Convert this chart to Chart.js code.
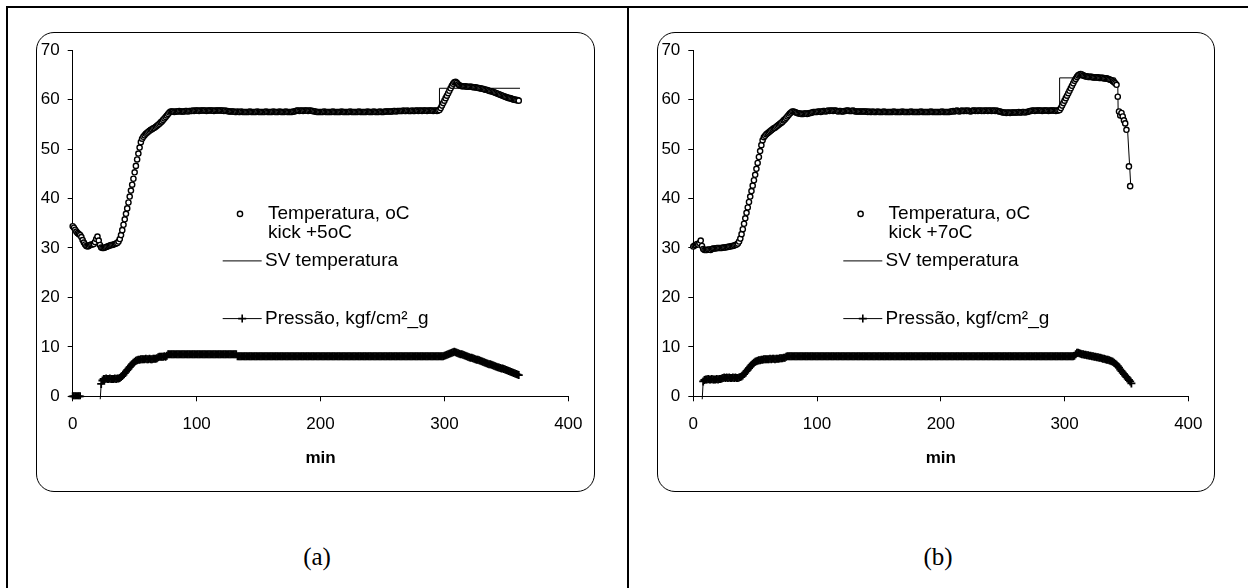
<!DOCTYPE html>
<html>
<head>
<meta charset="utf-8">
<script src="https://cdn.jsdelivr.net/npm/chart.js@4"></script>
<style>
html, body { margin: 0; padding: 0; background: #fff; }
body { width: 1248px; height: 588px; position: relative; overflow: hidden; }
.rule { position: absolute; background: #000; }
.box { position: absolute; border: 1px solid #000; border-radius: 18px; box-sizing: border-box; }
.plot { position: absolute; }
.cap { position: absolute; font-family: "Liberation Serif", "Times New Roman", serif; font-size: 25px; transform: translate(-50%, -50%); color: #000; }
</style>
</head>
<body>
<div class="rule" style="left:6px;top:6px;width:1242px;height:2px"></div>
<div class="rule" style="left:6px;top:6px;width:2px;height:582px"></div>
<div class="rule" style="left:627px;top:6px;width:2px;height:582px"></div>

<div class="box" style="left:36px;top:32px;width:559px;height:460px"></div>
<div class="box" style="left:657px;top:32px;width:558px;height:460px"></div>
<div class="plot" style="left:36px;top:32px"><canvas id="chartA" width="559" height="460"></canvas></div>
<div class="plot" style="left:657px;top:32px"><canvas id="chartB" width="558" height="460"></canvas></div>

<div class="cap" style="left:317px;top:557px">(a)</div>
<div class="cap" style="left:938px;top:557px">(b)</div>

<script>
// one reading per minute, index = minute
const SAMPLE_MIN = 1;

const tempLabel = 'Temperatura, oC';
const svLabel = 'SV temperatura';
const pressLabel = 'Pressão, kgf/cm²_g';
const kickA = 'kick +5oC';
const kickB = 'kick +7oC';

// panel (a) temperature, min 0..360
const tempA = [
  34.4, 34.1, 33.7, 33.3, 33.0, 32.8, 32.6, 32.2, 31.6, 31.1, 30.7, 30.4, 30.3, 30.4, 30.6, 30.7, 30.7, 30.8, 31.2, 31.8,
  32.3, 31.5, 30.6, 30.1, 30.0, 30.0, 30.1, 30.2, 30.3, 30.4, 30.5, 30.6, 30.6, 30.7, 30.8, 30.9, 31.0, 31.3, 31.8, 32.6,
  33.6, 34.7, 35.8, 36.9, 38.0, 39.2, 40.4, 41.6, 42.8, 44.0, 45.3, 46.6, 47.9, 49.1, 50.3, 51.4, 52.1, 52.5, 52.8, 53.1,
  53.3, 53.5, 53.7, 53.9, 54.0, 54.2, 54.3, 54.5, 54.7, 54.9, 55.1, 55.4, 55.6, 55.9, 56.2, 56.5, 56.8, 57.1, 57.4, 57.6,
  57.6, 57.6, 57.5, 57.6, 57.6, 57.6, 57.7, 57.6, 57.6, 57.6, 57.6, 57.7, 57.7, 57.6, 57.7, 57.7, 57.7, 57.8, 57.7, 57.8,
  57.8, 57.8, 57.7, 57.8, 57.8, 57.8, 57.8, 57.8, 57.7, 57.8, 57.8, 57.8, 57.8, 57.8, 57.7, 57.8, 57.8, 57.8, 57.8, 57.8,
  57.8, 57.8, 57.7, 57.8, 57.7, 57.7, 57.6, 57.6, 57.6, 57.6, 57.6, 57.5, 57.5, 57.6, 57.5, 57.5, 57.6, 57.5, 57.5, 57.5,
  57.5, 57.5, 57.5, 57.6, 57.5, 57.5, 57.5, 57.5, 57.5, 57.6, 57.5, 57.5, 57.5, 57.5, 57.5, 57.5, 57.6, 57.5, 57.5, 57.5,
  57.5, 57.5, 57.6, 57.5, 57.5, 57.5, 57.5, 57.6, 57.5, 57.5, 57.5, 57.5, 57.6, 57.5, 57.5, 57.5, 57.5, 57.5, 57.6, 57.6,
  57.7, 57.8, 57.8, 57.7, 57.8, 57.8, 57.7, 57.8, 57.8, 57.8, 57.7, 57.8, 57.8, 57.7, 57.7, 57.6, 57.6, 57.5, 57.5, 57.5,
  57.5, 57.5, 57.5, 57.6, 57.5, 57.5, 57.5, 57.5, 57.5, 57.5, 57.6, 57.5, 57.5, 57.5, 57.5, 57.5, 57.5, 57.6, 57.5, 57.5,
  57.5, 57.5, 57.5, 57.5, 57.6, 57.5, 57.5, 57.5, 57.5, 57.5, 57.5, 57.6, 57.5, 57.5, 57.5, 57.5, 57.5, 57.5, 57.6, 57.5,
  57.5, 57.5, 57.5, 57.6, 57.5, 57.5, 57.5, 57.5, 57.6, 57.5, 57.5, 57.5, 57.6, 57.6, 57.6, 57.6, 57.6, 57.6, 57.6, 57.7,
  57.7, 57.6, 57.7, 57.7, 57.7, 57.7, 57.7, 57.8, 57.7, 57.7, 57.8, 57.7, 57.7, 57.7, 57.8, 57.7, 57.7, 57.8, 57.8, 57.7,
  57.8, 57.8, 57.7, 57.8, 57.8, 57.8, 57.7, 57.8, 57.8, 57.8, 57.8, 57.7, 57.8, 57.8, 57.7, 57.8, 57.9, 58.3, 58.8, 59.3,
  59.8, 60.3, 60.8, 61.3, 61.8, 62.3, 62.8, 63.2, 63.5, 63.6, 63.4, 63.1, 62.9, 62.8, 62.7, 62.7, 62.7, 62.7, 62.6, 62.6,
  62.6, 62.6, 62.6, 62.5, 62.5, 62.5, 62.4, 62.4, 62.3, 62.3, 62.2, 62.2, 62.1, 62.0, 62.0, 61.9, 61.8, 61.7, 61.7, 61.6,
  61.5, 61.4, 61.3, 61.2, 61.1, 61.0, 60.9, 60.8, 60.7, 60.6, 60.5, 60.4, 60.3, 60.3, 60.2, 60.1, 60.0, 60.0, 59.9, 59.9,
  59.8
];

// panel (a) pressure, min 0..360 (null = no reading)
const pressA = [
  0.0, 0.0, 0.0, 0.0, 0.0, 0.0, 0.0, null, null, null, null, null, null, null, null, null, null, null, null, null,
  null, null, -1.5, 2.5, 3.2, 3.5, 3.5, 3.6, 3.5, 3.5, 3.6, 3.5, 3.5, 3.5, 3.6, 3.5, 3.6, 3.6, 3.7, 3.9,
  4.1, 4.4, 4.7, 5.0, 5.3, 5.6, 5.9, 6.2, 6.5, 6.8, 7.0, 7.2, 7.3, 7.4, 7.4, 7.5, 7.5, 7.5, 7.5, 7.6,
  7.5, 7.5, 7.6, 7.5, 7.5, 7.6, 7.6, 7.6, 7.7, 7.9, 8.0, 8.0, 8.0, 8.0, 8.1, 8.0, 8.2, 8.5, 8.5, 8.5,
  8.5, 8.5, 8.5, 8.5, 8.5, 8.5, 8.5, 8.5, 8.5, 8.5, 8.5, 8.5, 8.5, 8.5, 8.5, 8.5, 8.5, 8.5, 8.5, 8.5,
  8.5, 8.5, 8.5, 8.5, 8.5, 8.5, 8.5, 8.5, 8.5, 8.5, 8.5, 8.5, 8.5, 8.5, 8.5, 8.5, 8.5, 8.5, 8.5, 8.5,
  8.5, 8.5, 8.5, 8.5, 8.5, 8.5, 8.5, 8.5, 8.5, 8.5, 8.5, 8.5, 8.5, 8.1, 8.1, 8.1, 8.1, 8.1, 8.1, 8.1,
  8.1, 8.1, 8.1, 8.1, 8.1, 8.1, 8.1, 8.1, 8.1, 8.1, 8.1, 8.1, 8.1, 8.1, 8.1, 8.1, 8.1, 8.1, 8.1, 8.1,
  8.1, 8.1, 8.1, 8.1, 8.1, 8.1, 8.1, 8.1, 8.1, 8.1, 8.1, 8.1, 8.1, 8.1, 8.1, 8.1, 8.1, 8.1, 8.1, 8.1,
  8.1, 8.1, 8.1, 8.1, 8.1, 8.1, 8.1, 8.1, 8.1, 8.1, 8.1, 8.1, 8.1, 8.1, 8.1, 8.1, 8.1, 8.1, 8.1, 8.1,
  8.1, 8.1, 8.1, 8.1, 8.1, 8.1, 8.1, 8.1, 8.1, 8.1, 8.1, 8.1, 8.1, 8.1, 8.1, 8.1, 8.1, 8.1, 8.1, 8.1,
  8.1, 8.1, 8.1, 8.1, 8.1, 8.1, 8.1, 8.1, 8.1, 8.1, 8.1, 8.1, 8.1, 8.1, 8.1, 8.1, 8.1, 8.1, 8.1, 8.1,
  8.1, 8.1, 8.1, 8.1, 8.1, 8.1, 8.1, 8.1, 8.1, 8.1, 8.1, 8.1, 8.1, 8.1, 8.1, 8.1, 8.1, 8.1, 8.1, 8.1,
  8.1, 8.1, 8.1, 8.1, 8.1, 8.1, 8.1, 8.1, 8.1, 8.1, 8.1, 8.1, 8.1, 8.1, 8.1, 8.1, 8.1, 8.1, 8.1, 8.1,
  8.1, 8.1, 8.1, 8.1, 8.1, 8.1, 8.1, 8.1, 8.1, 8.1, 8.1, 8.1, 8.1, 8.1, 8.1, 8.1, 8.1, 8.1, 8.1, 8.1,
  8.2, 8.3, 8.4, 8.5, 8.6, 8.7, 8.8, 8.9, 9.0, 8.9, 8.8, 8.7, 8.6, 8.5, 8.5, 8.4, 8.3, 8.2, 8.1, 8.0,
  7.9, 7.8, 7.8, 7.7, 7.6, 7.5, 7.4, 7.4, 7.3, 7.2, 7.1, 7.0, 6.9, 6.8, 6.7, 6.6, 6.5, 6.5, 6.4, 6.3,
  6.2, 6.1, 6.0, 5.9, 5.8, 5.7, 5.6, 5.6, 5.5, 5.4, 5.3, 5.2, 5.1, 5.0, 4.9, 4.8, 4.7, 4.6, 4.5, 4.4,
  4.3
];

// panel (a) temperature setpoint
const svTimesA = [80, 296, 296, 361];
const svValuesA = [57.7, 57.7, 62.3, 62.3];

// panel (b) temperature, min 0..353
const tempB = [
  30.3, 30.5, 30.6, 30.8, 30.7, 31.0, 31.5, 30.4, 29.8, 29.6, 29.6, 29.6, 29.7, 29.7, 29.6, 29.8, 29.9, 29.9, 29.9, 30.0,
  30.0, 30.0, 30.0, 30.0, 30.1, 30.1, 30.1, 30.2, 30.2, 30.3, 30.3, 30.4, 30.4, 30.5, 30.6, 30.7, 30.9, 31.3, 31.9, 32.8,
  33.8, 34.9, 36.0, 37.1, 38.2, 39.3, 40.4, 41.5, 42.6, 43.7, 44.8, 46.0, 47.2, 48.4, 49.6, 50.8, 51.8, 52.4, 52.7, 53.0,
  53.2, 53.4, 53.6, 53.8, 54.0, 54.2, 54.3, 54.5, 54.7, 54.9, 55.1, 55.3, 55.5, 55.8, 56.0, 56.3, 56.6, 56.9, 57.2, 57.4,
  57.6, 57.6, 57.5, 57.4, 57.3, 57.2, 57.2, 57.1, 57.1, 57.1, 57.2, 57.2, 57.1, 57.2, 57.3, 57.3, 57.4, 57.5, 57.5, 57.5,
  57.5, 57.6, 57.6, 57.5, 57.6, 57.7, 57.7, 57.6, 57.7, 57.8, 57.7, 57.8, 57.8, 57.7, 57.8, 57.8, 57.7, 57.6, 57.7, 57.7,
  57.6, 57.6, 57.7, 57.7, 57.8, 57.8, 57.7, 57.7, 57.7, 57.8, 57.7, 57.6, 57.6, 57.6, 57.6, 57.6, 57.6, 57.6, 57.6, 57.6,
  57.6, 57.5, 57.6, 57.5, 57.5, 57.6, 57.5, 57.5, 57.5, 57.6, 57.5, 57.5, 57.5, 57.5, 57.6, 57.5, 57.5, 57.5, 57.5, 57.5,
  57.5, 57.5, 57.6, 57.5, 57.5, 57.5, 57.5, 57.5, 57.5, 57.6, 57.5, 57.5, 57.5, 57.5, 57.5, 57.5, 57.6, 57.5, 57.5, 57.5,
  57.5, 57.5, 57.5, 57.5, 57.6, 57.5, 57.5, 57.5, 57.5, 57.5, 57.5, 57.5, 57.6, 57.5, 57.5, 57.5, 57.5, 57.5, 57.5, 57.5,
  57.5, 57.6, 57.5, 57.5, 57.5, 57.5, 57.5, 57.5, 57.6, 57.6, 57.7, 57.6, 57.7, 57.8, 57.7, 57.6, 57.7, 57.8, 57.7, 57.7,
  57.8, 57.7, 57.8, 57.7, 57.6, 57.7, 57.8, 57.8, 57.7, 57.8, 57.7, 57.8, 57.8, 57.7, 57.8, 57.7, 57.8, 57.8, 57.7, 57.8,
  57.8, 57.7, 57.8, 57.8, 57.7, 57.8, 57.7, 57.6, 57.6, 57.5, 57.4, 57.4, 57.4, 57.3, 57.4, 57.4, 57.3, 57.4, 57.4, 57.4,
  57.4, 57.4, 57.4, 57.5, 57.4, 57.4, 57.5, 57.5, 57.4, 57.5, 57.5, 57.6, 57.7, 57.7, 57.8, 57.8, 57.7, 57.8, 57.8, 57.8,
  57.8, 57.8, 57.7, 57.8, 57.8, 57.8, 57.8, 57.7, 57.8, 57.8, 57.8, 57.8, 57.8, 57.7, 57.8, 57.8, 57.9, 58.3, 58.8, 59.3,
  59.8, 60.3, 60.8, 61.3, 61.8, 62.3, 62.8, 63.3, 63.8, 64.2, 64.6, 64.9, 65.1, 65.2, 65.1, 64.9, 64.8, 64.7, 64.7, 64.6,
  64.6, 64.6, 64.6, 64.5, 64.5, 64.5, 64.5, 64.5, 64.4, 64.4, 64.4, 64.4, 64.3, 64.3, 64.3, 64.2, 64.1, 64.0, 63.9, 63.7,
  63.5, 63.3, 63.0, 60.6, 57.6, 56.8, 57.3, 56.6, 55.8, 55.2, 53.9, null, 46.5, 42.5
];

// panel (b) pressure, min 0..354
const pressB = [
  null, null, null, null, null, null, null, -1.5, 3.0, 3.3, 3.4, 3.4, 3.5, 3.4, 3.4, 3.5, 3.4, 3.4, 3.4, 3.5,
  3.4, 3.5, 3.5, 3.6, 3.7, 3.8, 3.7, 3.8, 3.7, 3.8, 3.7, 3.7, 3.8, 3.7, 3.8, 3.7, 3.7, 3.8, 3.9, 4.0,
  4.2, 4.5, 4.8, 5.1, 5.4, 5.7, 6.0, 6.3, 6.6, 6.8, 7.0, 7.1, 7.2, 7.3, 7.3, 7.4, 7.4, 7.5, 7.5, 7.5,
  7.5, 7.5, 7.6, 7.5, 7.6, 7.6, 7.5, 7.6, 7.6, 7.6, 7.7, 7.7, 7.7, 7.8, 7.8, 8.0, 8.1, 8.1, 8.1, 8.1,
  8.1, 8.1, 8.1, 8.1, 8.1, 8.1, 8.1, 8.1, 8.1, 8.1, 8.1, 8.1, 8.1, 8.1, 8.1, 8.1, 8.1, 8.1, 8.1, 8.1,
  8.1, 8.1, 8.1, 8.1, 8.1, 8.1, 8.1, 8.1, 8.1, 8.1, 8.1, 8.1, 8.1, 8.1, 8.1, 8.1, 8.1, 8.1, 8.1, 8.1,
  8.1, 8.1, 8.1, 8.1, 8.1, 8.1, 8.1, 8.1, 8.1, 8.1, 8.1, 8.1, 8.1, 8.1, 8.1, 8.1, 8.1, 8.1, 8.1, 8.1,
  8.1, 8.1, 8.1, 8.1, 8.1, 8.1, 8.1, 8.1, 8.1, 8.1, 8.1, 8.1, 8.1, 8.1, 8.1, 8.1, 8.1, 8.1, 8.1, 8.1,
  8.1, 8.1, 8.1, 8.1, 8.1, 8.1, 8.1, 8.1, 8.1, 8.1, 8.1, 8.1, 8.1, 8.1, 8.1, 8.1, 8.1, 8.1, 8.1, 8.1,
  8.1, 8.1, 8.1, 8.1, 8.1, 8.1, 8.1, 8.1, 8.1, 8.1, 8.1, 8.1, 8.1, 8.1, 8.1, 8.1, 8.1, 8.1, 8.1, 8.1,
  8.1, 8.1, 8.1, 8.1, 8.1, 8.1, 8.1, 8.1, 8.1, 8.1, 8.1, 8.1, 8.1, 8.1, 8.1, 8.1, 8.1, 8.1, 8.1, 8.1,
  8.1, 8.1, 8.1, 8.1, 8.1, 8.1, 8.1, 8.1, 8.1, 8.1, 8.1, 8.1, 8.1, 8.1, 8.1, 8.1, 8.1, 8.1, 8.1, 8.1,
  8.1, 8.1, 8.1, 8.1, 8.1, 8.1, 8.1, 8.1, 8.1, 8.1, 8.1, 8.1, 8.1, 8.1, 8.1, 8.1, 8.1, 8.1, 8.1, 8.1,
  8.1, 8.1, 8.1, 8.1, 8.1, 8.1, 8.1, 8.1, 8.1, 8.1, 8.1, 8.1, 8.1, 8.1, 8.1, 8.1, 8.1, 8.1, 8.1, 8.1,
  8.1, 8.1, 8.1, 8.1, 8.1, 8.1, 8.1, 8.1, 8.1, 8.1, 8.1, 8.1, 8.1, 8.1, 8.1, 8.1, 8.1, 8.1, 8.1, 8.1,
  8.1, 8.1, 8.1, 8.1, 8.1, 8.1, 8.1, 8.1, 8.2, 8.5, 8.8, 8.8, 8.7, 8.6, 8.5, 8.5, 8.4, 8.4, 8.3, 8.3,
  8.2, 8.2, 8.1, 8.1, 8.0, 8.0, 7.9, 7.9, 7.8, 7.8, 7.7, 7.6, 7.6, 7.5, 7.4, 7.4, 7.3, 7.2, 7.1, 7.0,
  6.8, 6.6, 6.4, 6.1, 5.8, 5.4, 5.1, 4.8, 4.5, 4.2, 3.9, 3.6, 3.3, 3.0, 2.6
];

// panel (b) temperature setpoint
const svTimesB = [80, 296, 296, 341, 343, 343.3, 346, 349, 351, 352.6, 353.5];
const svValuesB = [57.7, 57.7, 64.4, 64.4, 63.3, 57.5, 56.5, 54.8, 53.5, 46.5, 42.5];

// axis ranges
const xMin = 0, xMax = 400, xStep = 100;
const yMin = 0, yMax = 70, yStep = 10;

Chart.defaults.font.family = '"Liberation Sans", Arial, sans-serif';
Chart.defaults.color = '#000';

function toPoints(values) {
    return values.map((v, i) => ({x: i * SAMPLE_MIN, y: v}));
}

function pairPoints(times, values) {
    return times.map((t, i) => ({x: t, y: values[i]}));
}

// legend sits inside the plot, like the spreadsheet one
const boxLegend = {
    id: 'boxLegend',
    afterDatasetsDraw(chart, args, opts) {
        const ctx = chart.ctx;
        const a = chart.chartArea;
        const ds = chart.data.datasets;
        const x0 = a.left, y0 = a.top;
        ctx.save();
        ctx.fillStyle = '#000';
        ctx.strokeStyle = '#000';
        ctx.font = '19px "Liberation Sans", Arial, sans-serif';
        ctx.textBaseline = 'middle';
        ctx.textAlign = 'left';

        // temperature marker
        ctx.lineWidth = 1.4;
        ctx.beginPath();
        ctx.arc(x0 + 167.3, y0 + 163.7, 2.6, 0, Math.PI * 2);
        ctx.fillStyle = '#fff';
        ctx.fill();
        ctx.stroke();
        ctx.fillStyle = '#000';
        ctx.fillText(ds[0].label, x0 + 195.3, y0 + 163.7);
        ctx.fillText(opts.note, x0 + 195.3, y0 + 182.7);

        // setpoint line
        ctx.lineWidth = 1;
        ctx.beginPath();
        ctx.moveTo(x0 + 150, y0 + 210.7);
        ctx.lineTo(x0 + 189, y0 + 210.7);
        ctx.stroke();
        ctx.fillText(ds[1].label, x0 + 192.3, y0 + 210.7);

        // pressure line + cross
        const py = y0 + 268.4, cx = x0 + 169.5;
        ctx.beginPath();
        ctx.moveTo(x0 + 150, py);
        ctx.lineTo(x0 + 189, py);
        ctx.stroke();
        ctx.lineWidth = 1.6;
        ctx.beginPath();
        ctx.moveTo(cx, py - 4);
        ctx.lineTo(cx, py + 4);
        ctx.moveTo(cx - 4, py);
        ctx.lineTo(cx + 4, py);
        ctx.stroke();
        ctx.fillText(ds[2].label, x0 + 192.3, py);
        ctx.restore();
    }
};

const CLIP = {left: 8, top: 8, right: 8, bottom: 3};

function makeChart(id, temp, press, svT, svV, note, yWidth, padRight) {
    return new Chart(document.getElementById(id), {
        type: 'scatter',
        data: {
            datasets: [{
                label: tempLabel,
                data: toPoints(temp),
                showLine: false,
                pointStyle: 'circle',
                pointRadius: 2.6,
                pointHoverRadius: 2.6,
                pointBorderWidth: 1.4,
                borderColor: '#000',
                backgroundColor: '#fff',
                clip: CLIP
            }, {
                label: svLabel,
                data: pairPoints(svT, svV),
                showLine: true,
                borderColor: '#000',
                borderWidth: 1,
                pointRadius: 0,
                pointHoverRadius: 0,
                clip: CLIP
            }, {
                label: pressLabel,
                data: toPoints(press),
                showLine: true,
                spanGaps: false,
                borderColor: '#000',
                borderWidth: 1,
                pointStyle: 'cross',
                pointRadius: 4,
                pointHoverRadius: 4,
                pointBorderWidth: 1.8,
                clip: CLIP
            }]
        },
        options: {
            responsive: false,
            animation: false,
            events: [],
            layout: {padding: {top: 16.3, right: padRight, left: 0, bottom: 0}},
            plugins: {
                legend: {display: false},
                tooltip: {enabled: false},
                boxLegend: {note: note}
            },
            scales: {
                x: {
                    type: 'linear',
                    min: xMin,
                    max: xMax,
                    ticks: {stepSize: xStep, padding: 12.5, color: '#000', font: {size: 17}},
                    grid: {display: true, drawOnChartArea: false, drawTicks: true, tickLength: 5, color: '#000', lineWidth: 1},
                    border: {display: true, color: '#000', width: 1},
                    title: {display: true, text: 'min', color: '#000', font: {size: 17, weight: 'bold'}, padding: {top: 0, bottom: 23.8}},
                    afterFit: s => { s.height = 95.7; }
                },
                y: {
                    type: 'linear',
                    min: yMin,
                    max: yMax,
                    ticks: {stepSize: yStep, padding: 8, color: '#000', font: {size: 17}},
                    grid: {display: true, drawOnChartArea: false, drawTicks: true, tickLength: 5, color: '#000', lineWidth: 1},
                    border: {display: true, color: '#000', width: 1},
                    afterFit: s => { s.width = yWidth; }
                }
            }
        },
        plugins: [boxLegend]
    });
}

makeChart('chartA', tempA, pressA, svTimesA, svValuesA, kickA, 36.7, 17.3);
makeChart('chartB', tempB, pressB, svTimesB, svValuesB, kickB, 36.3, 16);
</script>
</body>
</html>
